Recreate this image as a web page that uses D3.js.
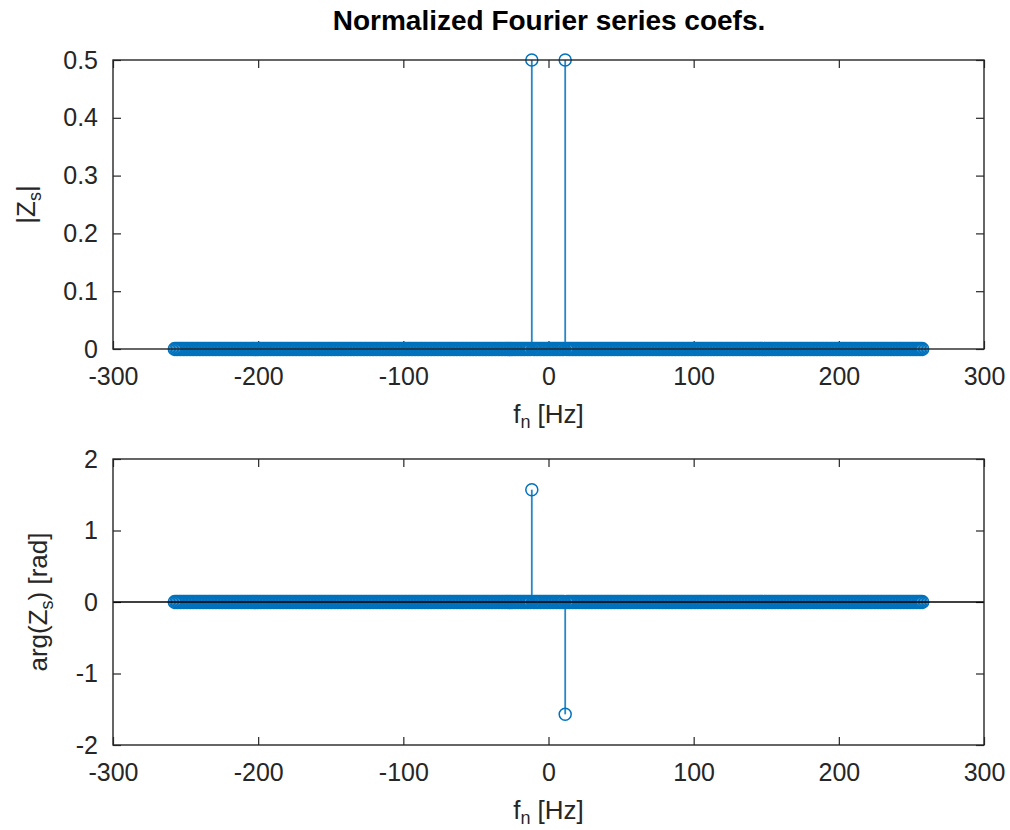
<!DOCTYPE html>
<html>
<head>
<meta charset="utf-8">
<script src="https://cdn.jsdelivr.net/npm/d3@7"></script>
<style>
  html, body { margin: 0; padding: 0; background: #fff; }
  svg { display: block; font-family: "Liberation Sans", Arial, Helvetica, sans-serif; }
</style>
</head>
<body>
<svg id="chart" width="1010" height="830"></svg>
<script>
// ---- data ----
const titleText = "Normalized Fourier series coefs.";
const freqGrid = [-257.5, 257.5, 1];          // start, stop, step of frequency bins [Hz]
const peakFreqs = [-11.5, 11.5];              // frequencies with non-zero coefficient
const peakMagnitude = [0.5, 0.5];             // |Zs| at the peaks
const peakPhase = [1.5708, -1.5708];          // arg(Zs) at the peaks [rad]
const xTicks = [-300, -200, -100, 0, 100, 200, 300];
const magTicks = [0, 0.1, 0.2, 0.3, 0.4, 0.5];
const phaseTicks = [-2, -1, 0, 1, 2];

const freqs = d3.range(freqGrid[0], freqGrid[1] + freqGrid[2] / 2, freqGrid[2]);
function valueAt(f, vals) {
  const i = peakFreqs.findIndex(p => Math.abs(p - f) < 1e-9);
  return i >= 0 ? vals[i] : 0;
}
const magData = freqs.map(f => ({ f, v: valueAt(f, peakMagnitude) }));
const phaseData = freqs.map(f => ({ f, v: valueAt(f, peakPhase) }));

// ---- drawing ----
const svg = d3.select("#chart");
const BLUE = "#0072BD";
const AX = "#262626";
const TXT = "#262626";

svg.append("text")
  .attr("x", 549).attr("y", 30)
  .attr("text-anchor", "middle")
  .attr("font-size", 28).attr("font-weight", "bold")
  .attr("fill", "#000")
  .text(titleText);

function panel(opts) {
  const { left, right, top, bottom, yDomain, yTicks, data, yLabel, yLabelX, drawBaseline } = opts;
  const x = d3.scaleLinear().domain([-300, 300]).range([left, right]);
  const y = d3.scaleLinear().domain(yDomain).range([bottom, top]);
  const g = svg.append("g");
  const tickLen = 8;
  const fmt = d => String(d);

  const xAxis = d3.axisBottom(x).tickValues(xTicks).tickFormat(fmt).tickSizeInner(-tickLen).tickSizeOuter(0).tickPadding(18);
  const gx = g.append("g").attr("transform", `translate(0,${bottom})`).call(xAxis);
  const gxt = g.append("g").attr("transform", `translate(0,${top})`)
    .call(d3.axisTop(x).tickValues(xTicks).tickFormat("").tickSizeInner(-tickLen).tickSizeOuter(0));
  const yAxis = d3.axisLeft(y).tickValues(yTicks).tickFormat(fmt).tickSizeInner(-tickLen).tickSizeOuter(0).tickPadding(tickLen + 7);
  const gy = g.append("g").attr("transform", `translate(${left},0)`).call(yAxis);
  const gyr = g.append("g").attr("transform", `translate(${right},0)`)
    .call(d3.axisRight(y).tickValues(yTicks).tickFormat("").tickSizeInner(-tickLen).tickSizeOuter(0));

  [gx, gxt, gy, gyr].forEach(a => {
    a.select(".domain").remove();
    a.selectAll(".tick line").attr("stroke", AX).attr("stroke-width", 1.2);
    a.selectAll(".tick text").attr("font-size", 25).attr("fill", TXT)
      .attr("font-family", "Liberation Sans, Arial, sans-serif");
  });
  gx.selectAll(".tick text").attr("y", 18).attr("dy", "0.71em");

  // stems
  const stems = data.filter(d => d.v !== 0);
  g.append("g").selectAll("line").data(stems).join("line")
    .attr("x1", d => x(d.f)).attr("x2", d => x(d.f))
    .attr("y1", y(0)).attr("y2", d => y(d.v))
    .attr("stroke", BLUE).attr("stroke-width", 1.8).attr("stroke-opacity", 0.85);

  // markers
  g.append("g").selectAll("circle").data(data).join("circle")
    .attr("cx", d => x(d.f)).attr("cy", d => y(d.v)).attr("r", d => d.v === 0 ? 6.4 : 6)
    .attr("fill", "none").attr("stroke", BLUE).attr("stroke-width", 1.5);

  if (drawBaseline) {
    g.append("line").attr("x1", left).attr("x2", right)
      .attr("y1", y(0)).attr("y2", y(0)).attr("stroke", "#000").attr("stroke-width", 1.3);
  }

  // box
  g.append("rect").attr("x", left).attr("y", top).attr("width", right - left).attr("height", bottom - top)
    .attr("fill", "none").attr("stroke", AX).attr("stroke-width", 1.4);

  // x label
  const xl = g.append("text").attr("x", (left + right) / 2).attr("y", bottom + 74)
    .attr("text-anchor", "middle").attr("font-size", 26).attr("fill", TXT);
  xl.append("tspan").text("f");
  xl.append("tspan").attr("font-size", 18).attr("dy", 5).text("n");
  xl.append("tspan").attr("dy", -5).text(" [Hz]");

  // y label
  const yl = g.append("text")
    .attr("transform", `translate(${yLabelX},${(top + bottom) / 2}) rotate(-90)`)
    .attr("text-anchor", "middle").attr("font-size", 26).attr("fill", TXT);
  yLabel(yl);
}

panel({
  left: 113, right: 984, top: 60, bottom: 349,
  yDomain: [0, 0.5], yTicks: magTicks, data: magData,
  yLabelX: 35, drawBaseline: false,
  yLabel: t => {
    t.append("tspan").text("|Z");
    t.append("tspan").attr("font-size", 18).attr("dy", 6).text("s");
    t.append("tspan").attr("dy", -6).text("|");
  }
});

panel({
  left: 113, right: 984, top: 459, bottom: 745,
  yDomain: [-2, 2], yTicks: phaseTicks, data: phaseData,
  yLabelX: 47, drawBaseline: true,
  yLabel: t => {
    t.append("tspan").text("arg(Z");
    t.append("tspan").attr("font-size", 18).attr("dy", 6).text("s");
    t.append("tspan").attr("dy", -6).text(") [rad]");
  }
});
</script>
</body>
</html>
